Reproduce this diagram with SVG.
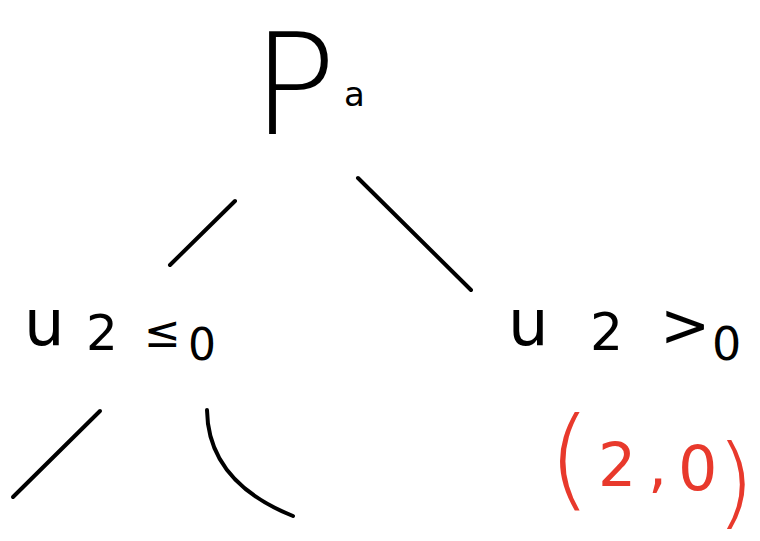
<svg xmlns="http://www.w3.org/2000/svg" width="760" height="541" viewBox="0 0 760 541">
<style>
.t{font-family:"DejaVu Sans","Liberation Sans",sans-serif;fill:#000}
.e{stroke:#000;stroke-width:4;fill:none;stroke-linecap:round}
.r{fill:#e8392c}
</style>
<rect width="760" height="541" fill="#fff"/>
<g id="root">
<text class="t" x="252" y="134" font-size="140" font-weight="300">P</text>
<text class="t" x="344" y="106" font-size="34">a</text>
</g>
<g id="left">
<text class="t" font-size="64"><tspan x="24" y="345">u</tspan><tspan x="86" y="350" font-size="50">2</tspan><tspan x="144" y="347" font-size="44">≤</tspan><tspan x="188" y="360" font-size="44">0</tspan></text>
</g>
<g id="right">
<text class="t" font-size="64"><tspan x="508" y="345">u</tspan><tspan x="590" y="350" font-size="52">2</tspan><tspan x="660" y="346" font-size="60">&gt;</tspan><tspan x="712" y="360" font-size="46">0</tspan></text>
</g>
<g id="payoff">
<text class="t r" font-size="60"><tspan x="548" y="496" font-size="110" font-weight="200">(</tspan><tspan x="598" y="486">2</tspan><tspan x="648" y="486">,</tspan><tspan x="678" y="490" font-size="62">0</tspan><tspan x="716" y="516" font-size="100" font-weight="200">)</tspan></text>
</g>
<g id="edges">
<line class="e" x1="235" y1="201" x2="170" y2="265"/>
<line class="e" x1="358" y1="178" x2="471" y2="290"/>
<line class="e" x1="100" y1="411" x2="13" y2="497"/>
<path class="e" d="M207,410 Q208,482 293,516"/>
</g>
</svg>
